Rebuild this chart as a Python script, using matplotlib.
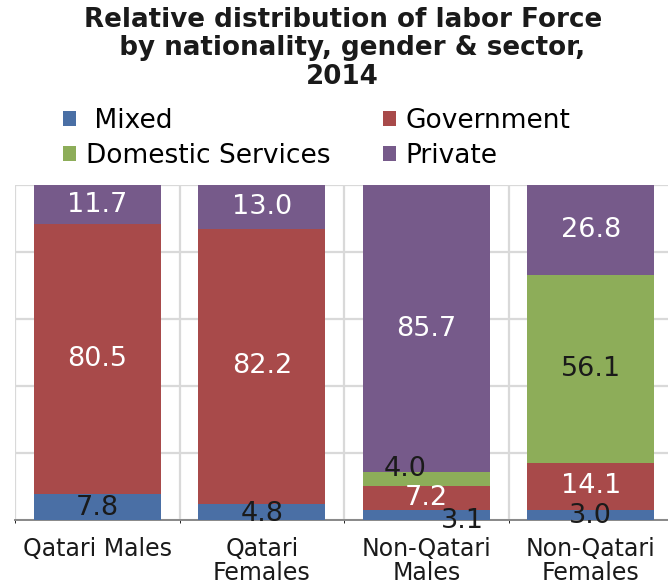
import matplotlib
matplotlib.use('Agg')
import matplotlib.pyplot as plt
import numpy as np

plt.rcParams['font.family'] = ['DejaVu Sans']

categories = ['Qatari Males', 'Qatari\nFemales', 'Non-Qatari\nMales', 'Non-Qatari\nFemales']
mixed = [7.8, 4.8, 3.1, 3.0]
government = [80.5, 82.2, 7.2, 14.1]
domestic = [0.0, 0.0, 4.0, 56.1]
private = [11.7, 13.0, 85.7, 26.8]

series = [(' Mixed', mixed, '#4a6fa5', '#1a1a1a'),
          ('Government', government, '#a84a4a', 'white'),
          ('Domestic Services', domestic, '#8dad59', '#1a1a1a'),
          ('Private', private, '#765a8a', 'white')]

# small nudges for crowded labels (x offset, y offset in data units)
nudge = {(0, 0): (0, -0.3), (0, 1): (0, -0.6), (0, 2): (0.22, -1.8), (0, 3): (0, -0.4),
         (2, 2): (-0.13, 3.0)}

fig = plt.figure(figsize=(6.68, 5.86), dpi=100)
ax = fig.add_axes([0.0225, 0.1126, 0.985, 0.5717])

x = np.arange(len(categories))
bottom = np.zeros(len(categories))
handles = []
for si, (name, vals, col, tcol) in enumerate(series):
    vals = np.array(vals)
    b = ax.bar(x, vals, 0.77, bottom=bottom, color=col, label=name, zorder=3)
    handles.append(b)
    for i, v in enumerate(vals):
        if v <= 0:
            continue
        dx, dy = nudge.get((si, i), (0, 0))
        ax.text(x[i] + dx, bottom[i] + v / 2 + dy, f'{v:.1f}', ha='center', va='center',
                color=tcol, fontsize=19.5, zorder=4)
    bottom += vals

ax.set_xlim(-0.5, 3.5)
ax.set_ylim(0, 100)
ax.set_yticks(np.arange(0, 101, 20))
ax.set_xticks(x)
ax.set_xticklabels(categories, fontsize=17, color='#1a1a1a', linespacing=1.0)
ax.set_xticks(np.arange(-0.5, 3.6, 1), minor=True)
ax.tick_params(axis='both', length=0, pad=12)
ax.tick_params(axis='y', labelleft=False)
ax.grid(True, axis='y', color='#d9d9d9', lw=1.6, zorder=0)
ax.grid(True, axis='x', which='minor', color='#d9d9d9', lw=1.6, zorder=0)
for s in ['top', 'right', 'left']:
    ax.spines[s].set_visible(False)
ax.spines['bottom'].set_color('#888888')
ax.spines['bottom'].set_linewidth(1.4)

fig.text(0.513, 0.988, 'Relative distribution of labor Force\n  by nationality, gender & sector,\n2014',
         ha='center', va='top', fontsize=18.8, fontweight='bold', color='#1a1a1a',
         linespacing=1.12)

order = [0, 2, 1, 3]
fig.legend([handles[i] for i in order], [series[i][0] for i in order], ncol=2,
           loc='upper left', bbox_to_anchor=(0.075, 0.839), frameon=False,
           fontsize=19, handlelength=0.5, handleheight=0.5, handletextpad=0.35,
           columnspacing=2.0, labelspacing=0.34, borderpad=0)

fig.savefig('out.png', dpi=100)
